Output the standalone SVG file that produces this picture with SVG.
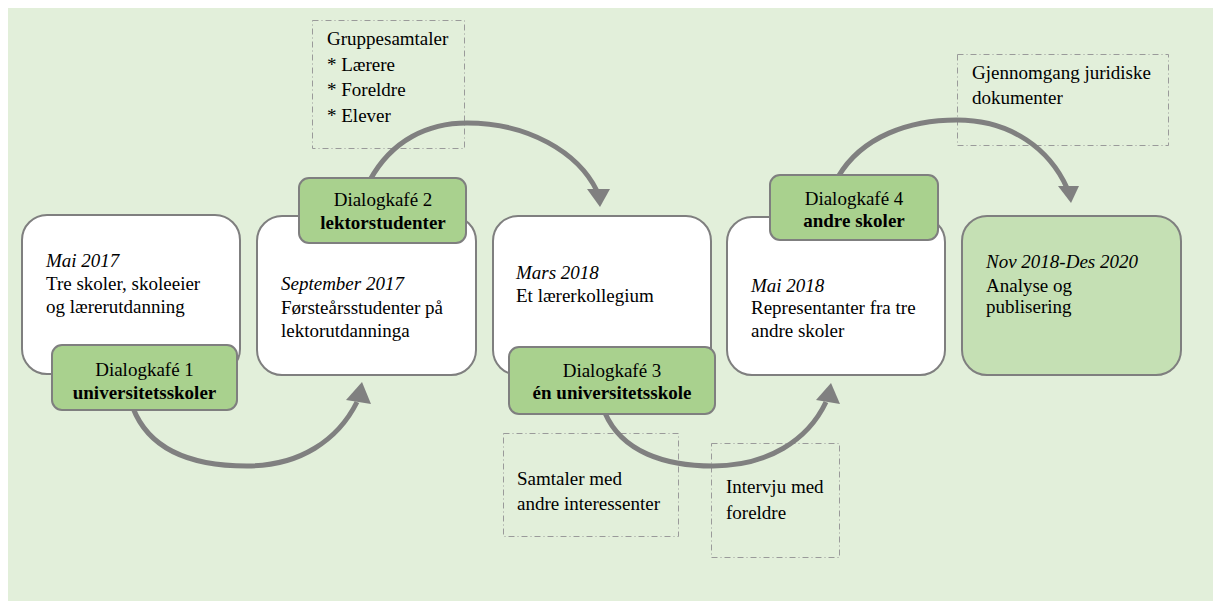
<svg xmlns="http://www.w3.org/2000/svg" width="1213" height="601" viewBox="0 0 1213 601">
  <defs>
    <style>
      .bg { fill: #e2efda; }
      .card { fill: #ffffff; stroke: #7f7f7f; stroke-width: 2; }
      .card-final { fill: #c5e0b4; stroke: #7f7f7f; stroke-width: 2; }
      .tag { fill: #a9d18e; stroke: #7f7f7f; stroke-width: 2; }
      .note { fill: none; stroke: #9a9a9a; stroke-width: 1; stroke-dasharray: 6 3 1 3; }
      .flow { fill: none; stroke: #808080; stroke-width: 5; stroke-linecap: butt; }
      .head { fill: #808080; stroke: none; }
      text { font-family: "Liberation Serif", "Times New Roman", serif; font-size: 19px; fill: #000000; }
      .it { font-style: italic; }
      .b { font-weight: bold; }
      .mid { text-anchor: middle; }
    </style>
  </defs>

  <rect class="bg" x="8" y="8" width="1205" height="593"/>

  <!-- side notes -->
  <g id="note-gruppesamtaler">
    <rect class="note" x="312.5" y="20.5" width="152" height="128"/>
    <text x="327" y="45">Gruppesamtaler</text>
    <text x="327" y="71">* Lærere</text>
    <text x="327" y="96">* Foreldre</text>
    <text x="327" y="122">* Elever</text>
  </g>
  <g id="note-juridiske">
    <rect class="note" x="957.5" y="54.5" width="211" height="91"/>
    <text x="972" y="79">Gjennomgang juridiske</text>
    <text x="972" y="104">dokumenter</text>
  </g>
  <g id="note-interessenter">
    <rect class="note" x="503.5" y="433.5" width="175" height="103"/>
    <text x="517" y="485">Samtaler med</text>
    <text x="517" y="510">andre interessenter</text>
  </g>
  <g id="note-intervju">
    <rect class="note" x="711.5" y="443.5" width="128" height="114"/>
    <text x="726" y="493">Intervju med</text>
    <text x="726" y="519">foreldre</text>
  </g>

  <!-- curved connectors between the stages -->
  <g id="connectors">
    <path class="flow" d="M133,408 C150,452 195,466 247,466 C300,466 338,440 357,402"/>
    <polygon class="head" points="346,400 371,404 362,382"/>

    <path class="flow" d="M370,180 C392,140 428,123 467,123 C528,123 578,152 597,191"/>
    <polygon class="head" points="587,189 610,189 600,207"/>

    <path class="flow" d="M605,413 C622,452 665,466 713,466 C768,466 808,440 826,402"/>
    <polygon class="head" points="816,400 840,404 831,383"/>

    <path class="flow" d="M838,177 C862,136 910,120 957,120 C1012,120 1050,150 1067,188"/>
    <polygon class="head" points="1058,186 1079,186 1071,203"/>
  </g>

  <!-- stage cards -->
  <g id="stage-1">
    <rect class="card" x="22" y="215" width="218" height="159" rx="25"/>
    <text class="it" x="46" y="267">Mai 2017</text>
    <text x="46" y="290">Tre skoler, skoleeier</text>
    <text x="46" y="313">og lærerutdanning</text>
  </g>
  <g id="stage-2">
    <rect class="card" x="257" y="216" width="219" height="159" rx="25"/>
    <text class="it" x="281" y="290">September 2017</text>
    <text x="281" y="313.5">Førsteårsstudenter på</text>
    <text x="281" y="337">lektorutdanninga</text>
  </g>
  <g id="stage-3">
    <rect class="card" x="493" y="216" width="218" height="159" rx="25"/>
    <text class="it" x="516" y="279">Mars 2018</text>
    <text x="516" y="302">Et lærerkollegium</text>
  </g>
  <g id="stage-4">
    <rect class="card" x="727" y="217" width="218" height="158" rx="25"/>
    <text class="it" x="751" y="292">Mai 2018</text>
    <text x="751" y="314">Representanter fra tre</text>
    <text x="751" y="337">andre skoler</text>
  </g>
  <g id="stage-5">
    <rect class="card-final" x="962" y="216" width="219" height="159" rx="25"/>
    <text class="it" x="986" y="268">Nov 2018-Des 2020</text>
    <text x="986" y="292">Analyse og</text>
    <text x="986" y="313">publisering</text>
  </g>

  <!-- dialogue café labels -->
  <g id="dialogkafe-1">
    <rect class="tag" x="52" y="345" width="185" height="65" rx="10"/>
    <text class="mid" x="144.5" y="376">Dialogkafé 1</text>
    <text class="mid b" x="144.5" y="399">universitetsskoler</text>
  </g>
  <g id="dialogkafe-2">
    <rect class="tag" x="299" y="178" width="167" height="65" rx="10"/>
    <text class="mid" x="383" y="206">Dialogkafé 2</text>
    <text class="mid b" x="383" y="229">lektorstudenter</text>
  </g>
  <g id="dialogkafe-3">
    <rect class="tag" x="509" y="347" width="206" height="67" rx="10"/>
    <text class="mid" x="612" y="377">Dialogkafé 3</text>
    <text class="mid b" x="612" y="399">én universitetsskole</text>
  </g>
  <g id="dialogkafe-4">
    <rect class="tag" x="770" y="175" width="168" height="65" rx="10"/>
    <text class="mid" x="854" y="205">Dialogkafé 4</text>
    <text class="mid b" x="854" y="227">andre skoler</text>
  </g>
</svg>
